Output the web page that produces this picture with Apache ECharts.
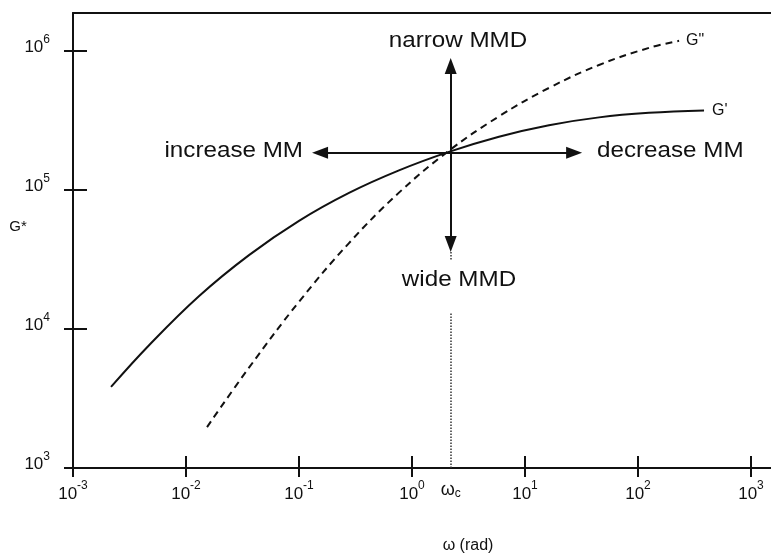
<!DOCTYPE html>
<html>
<head>
<meta charset="utf-8">
<script src="https://cdn.jsdelivr.net/npm/echarts@6.0.0/dist/echarts.min.js"></script>
<style>
  html, body { margin: 0; padding: 0; background: #fff; }
  #main { width: 771px; height: 554px; }
</style>
</head>
<body>
<div id="main"></div>
<script>
// tick positions (decades) on both axes
var xTicks = [0.001, 0.01, 0.1, 1, 10, 100, 1000];
var yTicks = [1000, 10000, 100000, 1000000];

// G' (solid)
var gpOmega = [0.00217, 0.00471, 0.0130, 0.0361, 0.100, 0.277, 0.767, 2.12, 5.88, 16.3, 45.2, 125, 384];
var gpModulus = [3830, 7640, 17200, 34000, 60000, 95300, 138400, 188000, 241700, 292300, 332800, 358600, 373500];

// G" (dashed)
var gppOmega = [0.01535, 0.0361, 0.100, 0.277, 0.767, 2.12, 5.88, 16.3, 45.2, 125, 231];
var gppModulus = [1970, 5270, 15700, 41500, 95700, 191400, 338200, 542000, 793000, 1052000, 1183000];

// crossover and the arrows around it
var wc = 2.2;
var gc = 185000;
var mmArrow = [0.1535, 27.2];     // omega ends of the horizontal arrow
var mmdArrow = [780000, 40900];   // G ends of the vertical arrow
var wcGuide = [1000, 13200];      // dotted line under "wide MMD"
var wcGuideTop = [35800, 31300];

var ink = '#111';
var font = '"Liberation Sans", Arial, Helvetica, sans-serif';

function pairs(xs, ys) {
    var out = [];
    for (var i = 0; i < xs.length; i++) out.push([xs[i], ys[i]]);
    return out;
}

function powLabel(value) {
    var e = Math.log10(value);
    if (Math.abs(e - Math.round(e)) < 0.01) {
        return '{b|10}{s|' + Math.round(e) + '}';
    }
    return '{w|\u03c9}{c|c}';
}

var labelRich = {
    b: { fontSize: 17, lineHeight: 28, fontFamily: font, color: ink },
    s: { fontSize: 12, lineHeight: 10, verticalAlign: 'top', fontFamily: font, color: ink },
    w: { fontSize: 18, lineHeight: 20, fontFamily: font, color: ink },
    c: { fontSize: 12, lineHeight: 12, verticalAlign: 'bottom', fontFamily: font, color: ink }
};

function note(text, x, y, align) {
    return {
        type: 'text', x: x, y: y, scaleX: 1.1,
        style: { text: text, font: '22px ' + font, fill: ink, textAlign: align, textVerticalAlign: 'middle' }
    };
}

var xMin = 0.001, xMax = 1503;
var yMin = 1000, yMax = 1875000;

var myChart = echarts.init(document.getElementById('main'));

var option = {
    animation: false,
    backgroundColor: '#fff',
    grid: { left: 73, right: 0, top: 13, bottom: 86, outerBoundsMode: 'none' },
    xAxis: [
        {
            type: 'log', logBase: 10, min: xMin, max: xMax, position: 'bottom',
            axisLine: { onZero: false, lineStyle: { color: ink, width: 2 } },
            axisTick: { show: true, inside: false, length: 9, customValues: xTicks, lineStyle: { color: ink, width: 2 } },
            axisLabel: { customValues: xTicks.concat([wc]), margin: 12, formatter: powLabel, rich: labelRich },
            splitLine: { show: false }
        },
        {
            type: 'log', logBase: 10, min: xMin, max: xMax, position: 'bottom',
            axisLine: { show: false },
            axisTick: { show: true, inside: true, length: 12, customValues: xTicks, lineStyle: { color: ink, width: 2 } },
            axisLabel: { show: false },
            splitLine: { show: false }
        },
        {
            type: 'log', logBase: 10, min: xMin, max: xMax, position: 'top',
            axisLine: { show: true, onZero: false, lineStyle: { color: ink, width: 2 } },
            axisTick: { show: false },
            axisLabel: { show: false },
            splitLine: { show: false }
        }
    ],
    yAxis: [
        {
            type: 'log', logBase: 10, min: yMin, max: yMax, position: 'left',
            axisLine: { show: true, onZero: false, lineStyle: { color: ink, width: 2 } },
            axisTick: { show: true, inside: false, length: 9, customValues: yTicks, lineStyle: { color: ink, width: 2 } },
            axisLabel: { customValues: yTicks, margin: 23, padding: [0, 0, 7, 0], formatter: powLabel, rich: labelRich },
            splitLine: { show: false }
        },
        {
            type: 'log', logBase: 10, min: yMin, max: yMax, position: 'left',
            axisLine: { show: false },
            axisTick: { show: true, inside: true, length: 14, customValues: yTicks, lineStyle: { color: ink, width: 2 } },
            axisLabel: { show: false },
            splitLine: { show: false }
        }
    ],
    graphic: [
        { type: 'text', x: 18, y: 227, style: { text: 'G*', font: '15px ' + font, fill: ink, textAlign: 'center', textVerticalAlign: 'middle' } },
        { type: 'text', x: 468, y: 546, style: { text: '\u03c9 (rad)', font: '16px ' + font, fill: ink, textAlign: 'center', textVerticalAlign: 'middle' } },
        note('narrow MMD', 458, 41, 'center'),
        note('wide MMD', 459, 280, 'center'),
        note('increase MM', 303, 151, 'right'),
        note('decrease MM', 597, 151, 'left')
    ],
    series: [
        {
            name: "G'", type: 'line', xAxisIndex: 0, yAxisIndex: 0,
            data: pairs(gpOmega, gpModulus),
            smooth: 0.4, symbol: 'none', silent: true,
            lineStyle: { color: ink, width: 2, type: 'solid' },
            endLabel: { show: true, formatter: "G'", distance: 8, color: ink, fontSize: 16, fontFamily: font }
        },
        {
            name: 'G"', type: 'line', xAxisIndex: 0, yAxisIndex: 0,
            data: pairs(gppOmega, gppModulus),
            smooth: 0.4, symbol: 'none', silent: true,
            lineStyle: { color: ink, width: 2, type: [7, 5] },
            endLabel: { show: true, formatter: 'G"', distance: 7, color: ink, fontSize: 16, fontFamily: font }
        },
        {
            name: 'arrows', type: 'line', xAxisIndex: 0, yAxisIndex: 0, data: [],
            markLine: {
                silent: true, animation: false,
                symbol: ['triangle', 'triangle'], symbolSize: [12, 16],
                label: { show: false },
                lineStyle: { color: ink, width: 2, type: 'solid' },
                emphasis: { disabled: true },
                data: [
                    [{ coord: [mmArrow[0], gc] }, { coord: [mmArrow[1], gc] }],
                    [{ coord: [wc, mmdArrow[0]] }, { coord: [wc, mmdArrow[1]] }]
                ]
            }
        },
        {
            name: 'guide', type: 'line', xAxisIndex: 0, yAxisIndex: 0, data: [],
            markLine: {
                silent: true, animation: false,
                symbol: ['none', 'none'],
                label: { show: false },
                lineStyle: { color: '#333', width: 1.5, type: 'dotted' },
                emphasis: { disabled: true },
                data: [
                    [{ coord: [wc, wcGuide[0]] }, { coord: [wc, wcGuide[1]] }],
                    [{ coord: [wc, wcGuideTop[0]] }, { coord: [wc, wcGuideTop[1]] }]
                ]
            }
        }
    ]
};

myChart.setOption(option);
</script>
</body>
</html>
